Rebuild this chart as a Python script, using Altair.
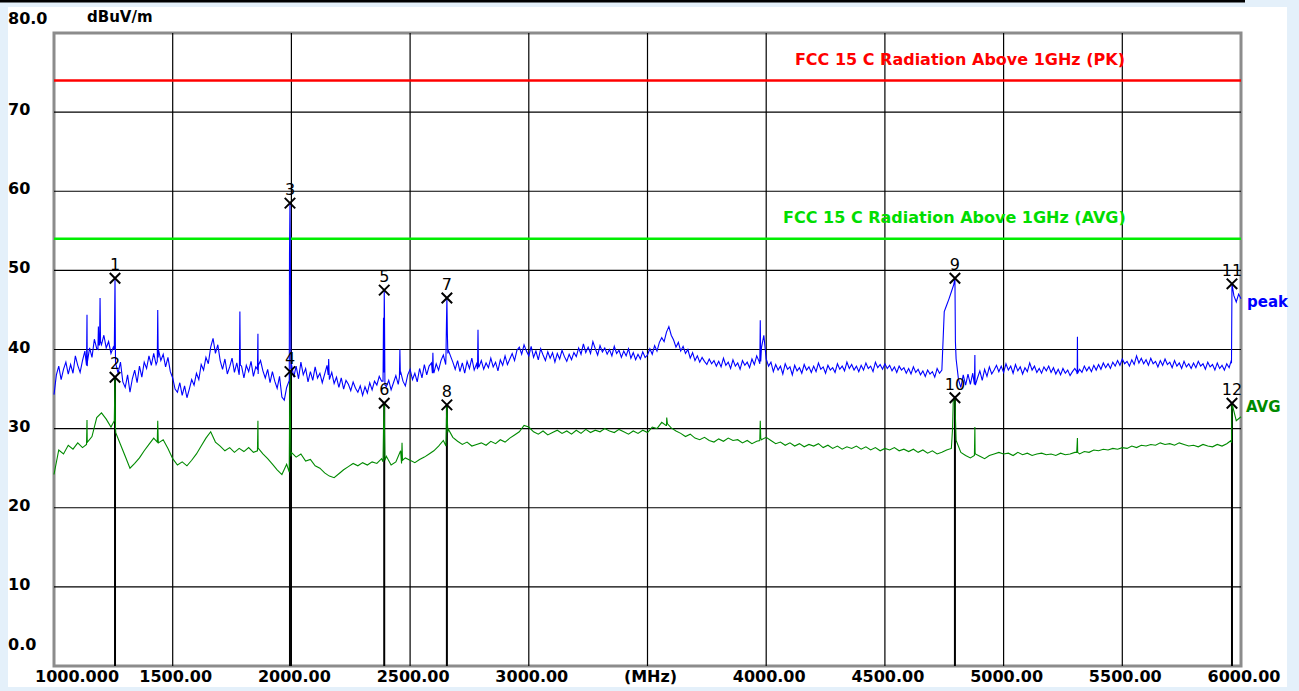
import altair as alt
import pandas as pd

# ---------------- data ----------------
sweep_start = 1000
peak_step = 10
avg_step = 20

peak_base = [
    34.3, 36.8, 37.9, 36.2, 37.5, 38.4, 36.9, 38.1, 37.0, 39.2, 38.0, 37.1, 38.6, 39.8, 37.9, 40.2, 39.0, 41.3, 40.1, 42.0,
    40.6, 41.8, 40.2, 41.0, 39.5, 40.3, 38.2, 37.0, 38.4, 35.9, 35.2, 36.8, 34.6, 36.3, 37.4, 35.8, 37.9, 36.5, 38.4, 37.6,
    39.2, 38.0, 39.5, 38.1, 40.0, 38.6, 39.4, 37.8, 39.0, 37.2, 36.4, 35.0, 34.6, 35.8, 34.2, 35.4, 33.9, 35.0, 36.2, 35.5,
    37.0, 36.2, 38.1, 37.4, 39.0, 38.2, 40.3, 41.4, 39.5, 40.6, 38.6, 37.5, 38.8, 36.9, 37.8, 38.9, 37.1, 38.3, 36.8, 37.9,
    36.4, 38.0, 37.2, 38.5, 36.6, 37.8, 36.9, 38.6, 37.3, 36.4, 37.5, 35.8, 37.2, 36.0, 35.1, 36.6, 34.0, 33.6, 35.2, 36.0,
    38.2, 36.5, 37.9, 36.3, 38.4, 36.8, 37.6, 35.9, 37.2, 36.1, 37.8, 36.4, 37.0, 35.8, 36.9, 38.0, 36.2, 37.1, 35.7, 36.5,
    35.2, 36.4, 35.0, 36.1, 35.6, 34.8, 35.9, 35.1, 34.6, 35.4, 34.2, 35.3, 34.5, 35.8, 34.9, 36.0, 35.5, 36.6, 36.0, 37.1,
    35.3, 36.1, 34.9, 35.8, 36.7, 35.6, 37.2, 36.0, 35.4, 36.8, 37.5, 36.2, 37.0, 35.9, 37.6, 36.4, 38.1, 36.8, 37.9, 38.3,
    37.0, 38.2, 37.4, 38.6, 39.3, 38.1, 40.0, 39.2, 38.4, 37.5, 38.6, 37.2, 38.3, 37.0, 38.5, 37.6, 38.9, 37.4, 38.2, 37.8,
    38.6, 37.5, 38.3, 37.7, 38.9, 37.8, 38.4, 37.3, 38.7, 38.0, 39.2, 38.1, 38.8, 39.5, 38.6, 39.9, 40.3, 39.4, 40.6, 39.8,
    39.2, 40.4, 39.0, 39.8, 38.7, 40.1, 39.3, 38.6, 39.7, 38.9, 39.6, 38.4, 39.5, 38.8, 39.9, 39.1, 38.5, 39.4, 38.7, 39.6,
    39.1, 40.2, 39.4, 40.7, 39.6, 40.3, 39.5, 41.0, 40.1, 39.3, 40.5, 39.7, 40.2, 39.4, 40.0, 39.2, 40.4, 39.5, 39.9, 39.0,
    39.8, 39.2, 40.1, 38.9, 39.6, 38.7, 39.4, 38.8, 39.7, 39.0, 39.3, 40.1, 39.4, 40.5, 39.8, 40.9, 41.5, 41.0, 42.2, 42.9,
    41.8, 41.2, 40.3, 40.9, 39.8, 40.4, 39.5, 40.0, 38.9, 39.6, 38.6, 39.2, 38.4, 39.0, 38.5, 38.1, 38.8, 38.2, 38.6, 37.9,
    38.5, 37.8, 38.9, 38.0, 38.4, 37.6, 38.7, 37.9, 38.3, 37.5, 38.6, 38.0, 38.4, 37.7, 38.8, 38.1, 39.2, 38.5, 40.2, 41.8,
    38.8, 37.9, 38.4, 37.2, 38.1, 37.4, 37.9, 36.9, 38.2, 37.5, 37.8, 36.8, 38.0, 37.3, 37.7, 37.0, 38.1, 37.4, 37.8, 37.1,
    37.9, 37.2, 38.3, 37.5, 37.8, 37.0, 38.0, 37.4, 37.7, 37.1, 38.2, 37.5, 37.9, 37.3, 38.4, 37.6, 38.1, 37.4, 37.9, 37.2,
    38.0, 37.4, 38.3, 37.6, 37.9, 37.2, 38.4, 37.7, 38.1, 37.5, 38.2, 37.6, 38.0, 37.3, 37.8, 37.1, 37.9, 37.4, 37.7, 37.0,
    37.6, 36.9, 37.8, 37.1, 37.5, 36.8, 37.3, 36.6, 37.4, 36.9, 37.2, 36.5, 37.6, 37.0, 37.4, 44.8, 45.6, 46.4, 47.3, 48.2,
    38.8, 36.2, 35.2, 36.8, 35.5, 36.9, 35.6, 37.0, 35.8, 36.4, 37.3, 36.1, 37.5, 36.6, 37.8, 36.9, 37.4, 38.0, 37.2, 37.9,
    37.1, 38.2, 37.4, 37.9, 37.0, 38.1, 37.3, 37.8, 36.9, 37.7, 37.2, 38.3, 37.4, 37.9, 37.1, 37.6, 37.0, 37.8, 37.3, 37.9,
    37.1, 37.7, 36.9, 37.5, 36.8, 37.6, 37.0, 37.4, 36.7, 37.2, 37.6, 36.9, 37.5, 37.1, 37.9, 37.3, 37.8, 37.2, 38.0, 37.4,
    38.1, 37.5, 38.3, 37.7, 38.2, 37.6, 38.4, 37.9, 38.6, 38.0, 38.8, 38.2, 38.5, 37.9, 38.7, 38.1, 39.2, 38.3, 38.9, 38.2,
    38.7, 38.0, 38.9, 38.2, 38.5, 37.8, 38.6, 38.0, 38.8, 38.1, 38.4, 37.7, 38.6, 37.9, 38.3, 37.6, 38.5, 37.8, 38.2, 37.6,
    38.3, 37.7, 38.5, 37.9, 38.2, 37.5, 38.4, 37.8, 38.1, 37.4, 38.3, 37.6, 38.0, 37.4, 38.2, 37.7, 38.4, 46.8, 46.0, 47.0,
    46.4,
]

avg_base = [
    24.2, 27.3, 26.8, 27.9, 27.4, 28.2, 27.6, 28.4, 29.0, 31.4,
    32.0, 31.2, 30.2, 29.5, 28.0, 26.5, 25.0, 25.6, 26.3, 27.2,
    28.0, 28.8, 28.2, 28.6, 27.5, 26.2, 25.4, 25.8, 25.3, 26.0,
    26.8, 27.8, 28.8, 29.6, 28.3, 27.8, 27.2, 27.6, 27.0, 27.5,
    27.1, 27.6, 27.0, 27.4, 26.8, 26.2, 25.5, 24.8, 24.2, 25.5,
    27.0, 26.4, 26.8, 25.9, 26.1, 25.3, 25.0, 24.4, 24.0, 23.8,
    24.3, 24.8, 25.2, 25.6, 25.3, 25.7, 25.4, 25.8, 25.6, 26.2,
    26.5, 25.4, 25.8, 27.2, 26.3, 26.0, 25.7, 26.1, 26.4, 26.8,
    27.2, 27.8, 28.5, 30.0, 28.9, 28.4, 28.0, 28.3, 27.8, 28.0,
    28.2, 27.9, 28.4, 28.1, 28.6, 28.3, 28.8, 29.2, 29.6, 30.4,
    30.2, 29.6, 29.3, 29.7, 29.2, 29.5, 29.8, 29.4, 29.7, 29.3,
    29.8, 29.4, 29.9, 29.5, 29.8, 29.6, 30.0, 29.7, 29.5, 29.9,
    29.6, 29.3, 29.7, 29.4, 29.8, 29.5, 30.2, 30.0, 30.8, 30.4,
    30.1, 29.7, 29.4, 29.0, 29.3, 28.8, 28.6, 28.9, 28.5, 28.3,
    28.7, 28.4, 28.8, 28.5, 28.6, 28.2, 28.5, 28.1, 28.4, 28.6,
    28.9, 28.5, 28.1, 28.3, 27.9, 28.2, 27.8, 28.1, 27.7, 28.0,
    27.8, 28.1, 27.6, 27.9, 27.5, 27.8, 27.4, 27.7, 27.5, 27.8,
    27.4, 27.7, 27.3, 27.6, 27.2, 27.5, 27.3, 27.6, 27.2, 27.4,
    27.1, 27.4, 27.0, 27.3, 26.9, 27.2, 26.8, 27.0, 27.3, 27.5,
    28.5, 27.0, 26.6, 26.3, 27.0, 26.5, 26.2, 26.6, 26.8, 27.0,
    26.8, 26.9, 26.6, 27.0, 26.7, 26.9, 26.6, 26.8, 26.9, 26.7,
    26.8, 26.6, 26.9, 26.7, 26.8, 27.0, 26.8, 27.1, 27.0, 27.3,
    27.2, 27.4, 27.3, 27.5, 27.4, 27.6, 27.5, 27.8, 27.6, 27.9,
    27.8, 28.0, 27.9, 28.2, 28.0, 28.1, 27.9, 28.2, 28.0, 27.8,
    27.9, 27.7, 28.0, 27.8, 27.7, 28.0, 27.8, 28.1, 28.2, 31.0,
    31.5,
]

peak_spike_freq = [1137, 1139, 1141, 1185, 1187, 1189, 1192, 1194, 1196,
                   1254, 1257, 1259, 1435, 1437, 1439, 1781, 1783, 1785,
                   1857, 1859, 1861, 1991, 1992, 1994, 1996, 1998,
                   2155, 2157, 2159, 2386, 2388, 2391, 2392, 2394,
                   2455, 2457, 2459, 2594, 2596, 2598,
                   2651, 2653, 2655, 2657, 2659, 2784, 2786, 2788,
                   3973, 3975, 3977, 4795, 4797,
                   4877, 4879, 4881, 5308, 5311, 5312, 5958, 5962]
peak_spike_val = [38.0, 44.4, 38.5, 40.0, 42.9, 40.5, 40.5, 46.5, 41.0,
                  40.0, 49.0, 38.5, 38.5, 45.0, 39.0, 37.5, 44.8, 38.0,
                  37.5, 42.0, 38.0, 36.0, 52.0, 58.5, 50.0, 37.5,
                  36.8, 38.8, 37.0, 36.0, 44.0, 47.5, 45.0, 35.5,
                  36.5, 40.0, 36.8, 37.0, 39.6, 37.3,
                  39.0, 43.0, 46.5, 42.0, 39.5, 37.5, 42.5, 37.8,
                  38.2, 43.7, 38.5, 49.0, 41.0,
                  35.6, 39.3, 35.5, 37.2, 41.6, 37.0, 38.5, 48.3]

avg_spike_freq = [1137, 1139, 1141, 1254, 1257, 1259, 1435, 1437, 1439,
                  1857, 1859, 1861, 1991, 1992, 1994, 1996, 1998,
                  2386, 2388, 2391, 2392, 2394, 2464, 2466, 2468,
                  2651, 2653, 2655, 2657, 2659, 3578, 3581, 3584,
                  3973, 3975, 3977, 4785, 4788, 4795, 4797,
                  4877, 4879, 4881, 5308, 5311, 5312, 5958, 5962]
avg_spike_val = [28.0, 31.1, 28.3, 31.0, 36.5, 30.0, 28.3, 31.0, 28.5,
                 27.2, 31.0, 27.5, 24.5, 30.0, 37.2, 31.0, 26.5,
                 25.8, 30.0, 33.2, 30.0, 26.0, 25.6, 28.2, 26.0,
                 27.8, 31.0, 33.0, 31.0, 29.5, 30.4, 31.4, 30.6,
                 28.5, 31.0, 28.8, 30.0, 33.6, 33.9, 31.5,
                 26.6, 30.2, 26.8, 27.0, 28.8, 27.0, 28.5, 33.2]

marker_freq = [1257, 1257, 1994, 1994, 2391, 2391, 2655, 2655, 4795, 4795, 5962, 5962]
marker_val = [49.0, 36.5, 58.5, 37.2, 47.5, 33.2, 46.5, 33.0, 49.0, 33.9, 48.3, 33.2]
marker_label = ["1", "2", "3", "4", "5", "6", "7", "8", "9", "10", "11", "12"]

limit_names = ["FCC 15 C Radiation Above 1GHz (PK)", "FCC 15 C Radiation Above 1GHz (AVG)"]
limit_vals = [74, 54]

x_grid = [1500, 2000, 2500, 3000, 3500, 4000, 4500, 5000, 5500]
y_grid = [10, 20, 30, 40, 50, 60, 70]
x_tick_vals = [1500, 2000, 2500, 3000, 3500, 4000, 4500, 5000, 5500, 6000]
x_tick_text = ["1500.00", "2000.00", "2500.00", "3000.00", "(MHz)", "4000.00",
               "4500.00", "5000.00", "5500.00", "6000.00"]
y_tick_vals = [70, 60, 50, 40, 30, 20, 10]
y_tick_text = ["70", "60", "50", "40", "30", "20", "10"]

# ---------------- tables ----------------
peak_freq = [sweep_start + i * peak_step for i in range(len(peak_base))]
avg_freq = [sweep_start + i * avg_step for i in range(len(avg_base))]
peak_df = pd.DataFrame({"f": peak_freq + peak_spike_freq,
                        "v": peak_base + peak_spike_val}).sort_values("f", kind="stable")
avg_df = pd.DataFrame({"f": avg_freq + avg_spike_freq,
                       "v": avg_base + avg_spike_val}).sort_values("f", kind="stable")
mk_df = pd.DataFrame({"f": marker_freq, "v": marker_val, "label": marker_label})
low_df = mk_df.iloc[1::2].copy()
low_df["zero"] = 0
lim_pk = pd.DataFrame({"v": [limit_vals[0]], "f": [4121], "label": [limit_names[0]]})
lim_av = pd.DataFrame({"v": [limit_vals[1]], "f": [4071], "label": [limit_names[1]]})
xg_df = pd.DataFrame({"f": x_grid})
yg_df = pd.DataFrame({"v": y_grid})
xt_df = pd.DataFrame({"f": x_tick_vals, "label": x_tick_text})
yt_df = pd.DataFrame({"v": y_tick_vals, "label": y_tick_text})
one = pd.DataFrame({"a": [0]})

xs = alt.Scale(domain=[1000, 6000], nice=False, zero=False)
ys = alt.Scale(domain=[0, 80], nice=False, zero=False)
FONT = "DejaVu Sans"
LIGHT = "#e4f0fa"

def X(field="f"):
    return alt.X(f"{field}:Q", scale=xs, axis=None)

def Y(field="v"):
    return alt.Y(f"{field}:Q", scale=ys, axis=None)

# decorative page bands
def band(x, x2, y, y2, color):
    return alt.Chart(one).mark_rect(color=color).encode(
        x=alt.value(x), x2=alt.value(x2), y=alt.value(y), y2=alt.value(y2))

bands = [
    band(-54, -46, -33, 658, LIGHT),
    band(1233, 1245, -33, 658, LIGHT),
    band(-54, 1245, -33, -26, LIGHT),
    band(-54, 1245, 654, 658, LIGHT),
    band(-54, 1191, -33, -30.5, "#000000"),
]

xgrid = alt.Chart(xg_df).mark_rule(color="#000000", strokeWidth=1.2).encode(x=X())
ygrid = alt.Chart(yg_df).mark_rule(color="#000000", strokeWidth=1.2).encode(y=Y())

pk_line = alt.Chart(lim_pk).mark_rule(color="#ff0000", strokeWidth=2.5).encode(y=Y())
av_line = alt.Chart(lim_av).mark_rule(color="#00ee00", strokeWidth=2.5).encode(y=Y())
pk_text = alt.Chart(lim_pk).mark_text(align="left", baseline="middle", dy=-20, font=FONT,
                                      fontSize=16, fontWeight="bold", color="#ff0000").encode(
    x=X(), y=Y(), text="label:N")
av_text = alt.Chart(lim_av).mark_text(align="left", baseline="middle", dy=-21, font=FONT,
                                      fontSize=16, fontWeight="bold", color="#00dd00").encode(
    x=X(), y=Y(), text="label:N")

mk_rules = alt.Chart(low_df).mark_rule(color="#000000", strokeWidth=2).encode(
    x=X(), y=Y(), y2="zero:Q")

avg_line = alt.Chart(avg_df).mark_line(color="#008a00", strokeWidth=1.1, interpolate="linear").encode(
    x=X(), y=Y(), order="f:Q")
peak_line = alt.Chart(peak_df).mark_line(color="#0000ff", strokeWidth=1.1, interpolate="linear").encode(
    x=X(), y=Y(), order="f:Q")

xshape = "M-1,-1L1,1M-1,1L1,-1"
mk_pts = alt.Chart(mk_df).mark_point(shape=xshape, filled=False, color="#000000",
                                     strokeWidth=2, size=110, opacity=1).encode(x=X(), y=Y())
mk_txt = alt.Chart(mk_df).mark_text(align="center", baseline="middle", dy=-13, font=FONT,
                                    fontSize=16, color="#000000").encode(x=X(), y=Y(), text="label:N")

peak_tag = alt.Chart(pd.DataFrame({"f": [6000], "v": [46.0], "t": ["peak"]})).mark_text(
    align="left", baseline="middle", dx=6, font=FONT, fontSize=15, fontWeight="bold",
    color="#0000ff").encode(x=X(), y=Y(), text="t:N")
avg_tag = alt.Chart(pd.DataFrame({"f": [6000], "v": [32.7], "t": ["AVG"]})).mark_text(
    align="left", baseline="middle", dx=5, font=FONT, fontSize=15, fontWeight="bold",
    color="#008a00").encode(x=X(), y=Y(), text="t:N")

lab_style = dict(font=FONT, fontSize=16, fontWeight="bold", color="#000000", baseline="middle")
xt = alt.Chart(xt_df).mark_text(align="center", dx=3, **lab_style).encode(
    x=X(), y=alt.value(644), text="label:N")
xt0 = alt.Chart(pd.DataFrame({"f": [1000], "label": ["1000.000"]})).mark_text(
    align="center", dx=23, **lab_style).encode(x=X(), y=alt.value(644), text="label:N")
yt = alt.Chart(yt_df).mark_text(align="left", dy=-2, **lab_style).encode(
    x=alt.value(-46), y=Y(), text="label:N")
yt80 = alt.Chart(pd.DataFrame({"v": [80], "label": ["80.0"]})).mark_text(
    align="left", dy=-14, **lab_style).encode(x=alt.value(-46), y=Y(), text="label:N")
yt0 = alt.Chart(pd.DataFrame({"v": [0], "label": ["0.0"]})).mark_text(
    align="left", dy=-21, **lab_style).encode(x=alt.value(-46), y=Y(), text="label:N")
unit = alt.Chart(pd.DataFrame({"t": ["dBuV/m"]})).mark_text(
    align="left", font=FONT, fontSize=15, fontWeight="bold", color="#000000",
    baseline="middle").encode(x=alt.value(33), y=alt.value(-16), text="t:N")

chart = alt.layer(
    *bands, xgrid, ygrid, pk_line, av_line, pk_text, av_text, mk_rules,
    avg_line, peak_line, mk_pts, mk_txt, peak_tag, avg_tag,
    xt, xt0, yt, yt80, yt0, unit,
).properties(
    width=1187, height=633,
    background="white",
    padding={"left": 54, "top": 33, "right": 58, "bottom": 25},
    autosize=alt.AutoSizeParams(type="none"),
).configure_view(
    stroke="#8c8c8c", strokeWidth=3, fill="white",
)

chart.save("out.html", embed_options={"renderer": "svg", "actions": False})
